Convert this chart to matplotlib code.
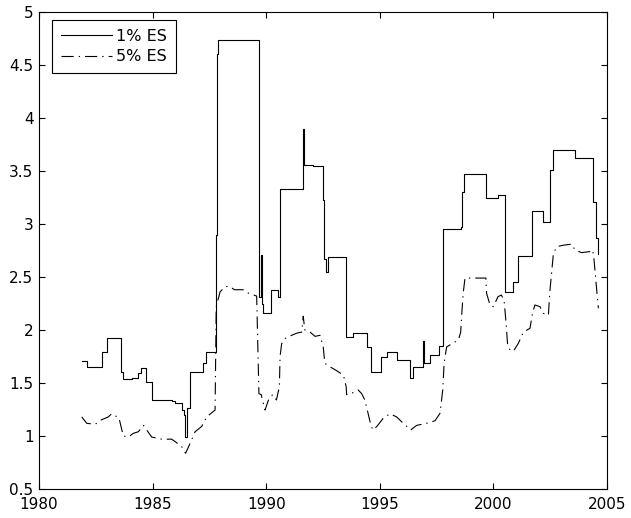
import matplotlib
matplotlib.use("Agg")
from matplotlib import pyplot as plt
import numpy as np

plt.rcParams['font.family'] = ['DejaVu Sans']

# 1% ES, piecewise constant: start year of each step and its level
es1_t = [1981.88, 1982.10, 1982.76, 1983.00, 1983.61, 1983.70, 1984.08, 1984.37,
         1984.50, 1984.70, 1984.96, 1985.84, 1985.99, 1986.28, 1986.40, 1986.43,
         1986.50, 1986.65, 1987.20, 1987.34, 1987.78, 1987.82, 1987.87, 1989.68,
         1989.70, 1989.76, 1989.80, 1989.87, 1990.20, 1990.50, 1990.61, 1991.62,
         1991.68, 1992.07, 1992.48, 1992.53, 1992.62, 1992.70, 1993.50, 1993.84,
         1994.42, 1994.62, 1995.04, 1995.30, 1995.74, 1996.33, 1996.47, 1996.89,
         1996.95, 1997.20, 1997.62, 1997.77, 1997.80, 1998.57, 1998.62, 1998.72,
         1999.67, 2000.20, 2000.51, 2000.88, 2001.10, 2001.68, 2002.17, 2002.49,
         2002.64, 2003.59, 2004.40, 2004.52, 2004.62]
es1_v = [1.71, 1.648, 1.79, 1.92, 1.607, 1.535, 1.55, 1.59,
         1.645, 1.51, 1.337, 1.33, 1.31, 1.245, 1.20, 0.99,
         1.26, 1.607, 1.686, 1.79, 2.90, 4.60, 4.736, 3.80,
         2.31, 2.71, 2.25, 2.157, 2.38, 2.31, 3.33, 3.90,
         3.56, 3.55, 3.23, 2.67, 2.55, 2.686, 1.93, 1.975,
         1.84, 1.60, 1.75, 1.79, 1.72, 1.544, 1.648, 1.896,
         1.686, 1.764, 1.85, 2.50, 2.95, 2.975, 3.30, 3.469,
         3.25, 3.27, 2.36, 2.45, 2.70, 3.12, 3.016, 3.51,
         3.70, 3.62, 3.21, 2.87, 2.72]

# 5% ES
es5_t = [1981.88, 1982.10, 1982.47, 1982.72, 1983.05, 1983.20, 1983.52, 1983.61,
         1983.71, 1983.93, 1984.15, 1984.37, 1984.60, 1984.74, 1984.96, 1985.40,
         1985.84, 1986.00, 1986.28, 1986.45, 1986.65, 1986.87, 1987.16, 1987.38,
         1987.75, 1987.80, 1987.97, 1988.20, 1988.40, 1988.60, 1988.98, 1989.20,
         1989.58, 1989.68, 1989.78, 1989.95, 1990.10, 1990.28, 1990.45, 1990.58,
         1990.61, 1990.68, 1990.83, 1991.05, 1991.34, 1991.56, 1991.63, 1991.70,
         1991.93, 1992.15, 1992.37, 1992.51, 1992.58, 1992.80, 1993.10, 1993.40,
         1993.52, 1993.54, 1993.84, 1994.05, 1994.20, 1994.34, 1994.45, 1994.57,
         1994.69, 1994.87, 1995.15, 1995.45, 1995.74, 1996.03, 1996.36, 1996.62,
         1997.06, 1997.43, 1997.65, 1997.77, 1997.83, 1997.94, 1998.16, 1998.46,
         1998.56, 1998.60, 1998.67, 1998.75, 1999.67, 1999.70, 1999.85, 2000.00,
         2000.20, 2000.35, 2000.47, 2000.56, 2000.62, 2000.73, 2000.88, 2001.10,
         2001.32, 2001.61, 2001.73, 2001.83, 2002.05, 2002.20, 2002.42, 2002.49,
         2002.56, 2002.64, 2002.79, 2003.08, 2003.45, 2003.59, 2003.88, 2004.25,
         2004.37, 2004.43, 2004.52, 2004.62]
es5_v = [1.18, 1.12, 1.11, 1.15, 1.18, 1.21, 1.17, 1.09,
         1.00, 0.99, 1.025, 1.04, 1.10, 1.057, 0.99, 0.97,
         0.97, 0.946, 0.90, 0.837, 0.93, 1.04, 1.09, 1.18,
         1.245, 2.22, 2.36, 2.41, 2.41, 2.38, 2.38, 2.35,
         2.32, 1.40, 1.39, 1.245, 1.34, 1.39, 1.34, 1.465,
         1.75, 1.87, 1.92, 1.943, 1.97, 1.98, 2.13, 2.00,
         1.98, 1.94, 1.95, 1.84, 1.686, 1.654, 1.616, 1.575,
         1.465, 1.39, 1.41, 1.434, 1.40, 1.34, 1.245, 1.135,
         1.057, 1.09, 1.167, 1.21, 1.18, 1.12, 1.057, 1.10,
         1.12, 1.144, 1.214, 1.434, 1.686, 1.84, 1.868, 1.906,
         1.98, 2.125, 2.346, 2.49, 2.49, 2.346, 2.236, 2.22,
         2.314, 2.33, 2.28, 2.06, 1.875, 1.81, 1.80, 1.875,
         1.98, 2.016, 2.17, 2.236, 2.22, 2.157, 2.14, 2.377,
         2.535, 2.72, 2.786, 2.80, 2.81, 2.755, 2.73, 2.74,
         2.755, 2.66, 2.44, 2.205]

xticks = [1980, 1985, 1990, 1995, 2000, 2005]
yticks = [0.5, 1, 1.5, 2, 2.5, 3, 3.5, 4, 4.5, 5]

fig = plt.figure(figsize=(6.31, 5.18), dpi=100)
ax = fig.add_axes([39/631, 29/518, 568/631, 477/518])

ax.plot(es1_t, es1_v, color='black', linewidth=0.8, drawstyle='steps-post', label='1% ES')
ax.plot(es5_t, es5_v, color='black', linewidth=0.8, linestyle=(0, (11, 4.5, 1.2, 4.5)), label='5% ES')

ax.set_xlim(1980, 2005)
ax.set_ylim(0.5, 5)
ax.set_xticks(xticks)
ax.set_xticklabels([str(v) for v in xticks])
ax.set_yticks(yticks)
ax.set_yticklabels([f'{v:g}' for v in yticks])
ax.tick_params(direction='in', top=True, right=True, length=4, width=0.8, labelsize=11)
ax.tick_params(axis='x', pad=6)
ax.tick_params(axis='y', pad=4)
for s in ax.spines.values():
    s.set_linewidth(0.8)

leg = ax.legend(loc='upper left', bbox_to_anchor=(0.0224, 0.983), borderaxespad=0,
                fancybox=False, framealpha=1, edgecolor='black', fontsize=11.5,
                handlelength=3.25, handletextpad=0.25, borderpad=0.55, labelspacing=0.35)
leg.get_frame().set_linewidth(0.8)

fig.savefig('out.png', dpi=100)
